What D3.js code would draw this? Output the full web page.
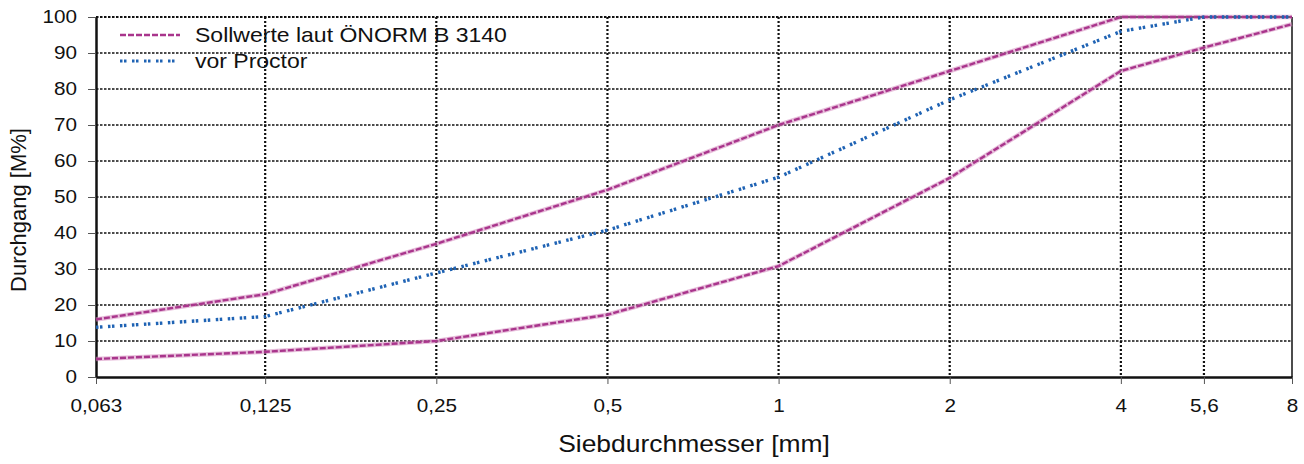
<!DOCTYPE html>
<html>
<head>
<meta charset="utf-8">
<script src="https://cdn.jsdelivr.net/npm/d3@7"></script>
<style>
	body { margin: 0; background: #fff; }
	text { font-family: "Liberation Sans", Arial, sans-serif; fill: #111; }
</style>
</head>
<body>
<div id="chart"></div>
<script>
// Siebdurchmesser [mm] und Durchgang [M%]
const siebe = [0.063, 0.125, 0.25, 0.5, 1, 2, 4, 5.6, 8];
const sollOben = [16, 23, 37, 52, 70, 85, 100, 100, 100];
const sollUnten = [5, 7, 10, 17.3, 30.8, 55.3, 85, 91.5, 98];
const vorProctor = [13.8, 16.8, 28.9, 40.8, 55.5, 77, 96, 100, 100];
const yTicks = [0, 10, 20, 30, 40, 50, 60, 70, 80, 90, 100];
const legende = ["Sollwerte laut ÖNORM B 3140", "vor Proctor"];

var svgWidth = 1304;
var svgHeight = 464;
var margin = {top: 17, right: 12, bottom: 87, left: 96};
var width = svgWidth - margin.left - margin.right;
var height = svgHeight - margin.top - margin.bottom;
var stretch = "scale(1.15,1)";

var svg = d3.select("#chart")
	.append("svg")
	.attr("width", svgWidth)
	.attr("height", svgHeight)
	.append("g")
	.attr("transform", "translate(" + margin.left + "," + margin.top + ")");

var x = d3.scaleLog()
	.domain([siebe[0], siebe[siebe.length - 1]])
	.range([0, width]);

var y = d3.scaleLinear()
	.domain([0, 100])
	.range([height, 0]);

var komma = function(d) { return String(d).replace(".", ","); };

// gitter
svg.append("g")
	.selectAll("line")
	.data(yTicks.slice(1))
	.enter().append("line")
	.attr("x1", 0).attr("x2", width)
	.attr("y1", function(d) { return y(d); })
	.attr("y2", function(d) { return y(d); })
	.attr("stroke", "#111")
	.attr("stroke-width", function(d) { return d == 100 ? 2.2 : 1.7; })
	.attr("stroke-dasharray", "2.5,1.5");

svg.append("g")
	.selectAll("line")
	.data(siebe.slice(1, -1))
	.enter().append("line")
	.attr("y1", 0).attr("y2", height)
	.attr("x1", function(d) { return x(d); })
	.attr("x2", function(d) { return x(d); })
	.attr("stroke", "#111")
	.attr("stroke-width", 2.2)
	.attr("stroke-dasharray", "2,2");

// achsen
var xAxis = svg.append("g")
	.attr("transform", "translate(0," + height + ")")
	.call(d3.axisBottom(x).tickValues(siebe).tickFormat(komma).tickSize(7).tickSizeOuter(0));
xAxis.select(".domain").attr("stroke", "#111").attr("stroke-width", 2.5);
xAxis.selectAll(".tick line").attr("stroke", "#555").attr("stroke-width", 1);
xAxis.selectAll(".tick text")
	.attr("y", 0).attr("dy", null)
	.attr("transform", "translate(0,35) " + stretch)
	.style("font-size", "18px");

var yAxis = svg.append("g")
	.call(d3.axisLeft(y).tickValues(yTicks).tickSize(8).tickSizeOuter(0));
yAxis.select(".domain").attr("stroke", "#111").attr("stroke-width", 2.5);
yAxis.selectAll(".tick line").attr("stroke", "#555").attr("stroke-width", 1);
yAxis.selectAll(".tick text")
	.attr("x", 0)
	.attr("transform", "translate(-19,0) " + stretch)
	.style("font-size", "18px");

svg.append("line")
	.attr("x1", width).attr("x2", width)
	.attr("y1", 0).attr("y2", height)
	.attr("stroke", "#111")
	.attr("stroke-width", 1.5);

svg.append("text")
	.attr("transform", "translate(" + (width / 2) + "," + (height + 75) + ") " + stretch)
	.attr("text-anchor", "middle")
	.style("font-size", "23px")
	.text("Siebdurchmesser [mm]");

svg.append("text")
	.attr("transform", "translate(-70," + 193 + ") rotate(-90)")
	.attr("text-anchor", "middle")
	.style("font-size", "22px")
	.text("Durchgang [M%]");

// kurven
var line = d3.line()
	.x(function(d, i) { return x(siebe[i]); })
	.y(function(d) { return y(d); });

var magenta = "#a9358c";
var blau = "#1f63b4";

[sollOben, sollUnten].forEach(function(serie) {
	svg.append("path")
		.datum(serie)
		.attr("fill", "none")
		.attr("stroke", "#d58cc0")
		.attr("stroke-width", 4.5)
		.attr("stroke-opacity", 0.55)
		.attr("d", line);
	svg.append("path")
		.datum(serie)
		.attr("fill", "none")
		.attr("stroke", magenta)
		.attr("stroke-width", 2.4)
		.attr("stroke-dasharray", "6,2")
		.attr("d", line);
});

svg.append("path")
	.datum(vorProctor)
	.attr("fill", "none")
	.attr("stroke", blau)
	.attr("stroke-width", 3.4)
	.attr("stroke-dasharray", "2.5,1.5,2.5,5.5")
	.attr("d", line);

// legende
var leg = svg.append("g").attr("transform", "translate(24,18)");
var stile = [
	{farbe: magenta, dash: "6,2", breite: 2.5},
	{farbe: blau, dash: "2.5,1.5,2.5,5.5", breite: 3.2}
];
legende.forEach(function(name, i) {
	leg.append("line")
		.attr("x1", 0).attr("x2", 60)
		.attr("y1", i * 26).attr("y2", i * 26)
		.attr("stroke", stile[i].farbe)
		.attr("stroke-width", stile[i].breite)
		.attr("stroke-dasharray", stile[i].dash);
	leg.append("text")
		.attr("transform", "translate(75," + (i * 26 + 7) + ") " + stretch)
		.style("font-size", "20px")
		.text(name);
});
</script>
</body>
</html>
